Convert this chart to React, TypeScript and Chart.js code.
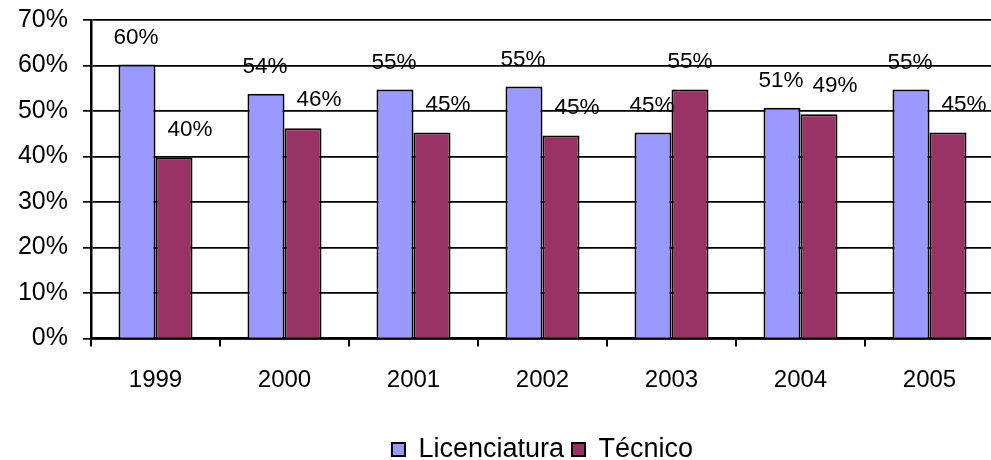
import React, { useEffect, useRef } from "react";
import { Chart, registerables } from "chart.js";

Chart.register(...registerables);

const years = ["1999", "2000", "2001", "2002", "2003", "2004", "2005"];
const licenciatura = [60.2, 53.8, 54.7, 55.4, 45.3, 50.7, 54.7];
const tecnico = [39.8, 46.2, 45.3, 44.6, 54.7, 49.3, 45.3];
const yTicks = [0, 10, 20, 30, 40, 50, 60, 70];

const FONT = '"Liberation Sans", Arial, sans-serif';

const valueLabels = {
  id: "valueLabels",
  afterDatasetsDraw(chart: any) {
    const ctx = chart.ctx;
    ctx.save();
    ctx.font = `22.5px ${FONT}`;
    ctx.fillStyle = "#000";
    ctx.textAlign = "center";
    ctx.textBaseline = "middle";
    const m0 = chart.getDatasetMeta(0);
    const m1 = chart.getDatasetMeta(1);
    m0.data.forEach((bar: any, i: number) => {
      const v = licenciatura[i];
      ctx.fillText(Math.round(v) + "%", bar.x - 1, bar.y - 27);
    });
    m1.data.forEach((bar: any, i: number) => {
      const v = tecnico[i];
      const dx = v < licenciatura[i] ? 16 : 0;
      ctx.fillText(Math.round(v) + "%", bar.x + dx, bar.y - 28);
    });
    ctx.restore();
  },
};

export default function App() {
  const ref = useRef<HTMLCanvasElement | null>(null);
  useEffect(() => {
    if (!ref.current) return;
    const chart = new Chart(ref.current, {
      type: "bar",
      data: {
        labels: years,
        datasets: [
          {
            label: "Licenciatura",
            data: licenciatura,
            backgroundColor: "#9999FF",
            borderColor: "#000",
            borderWidth: 2,
          },
          {
            label: "Técnico",
            data: tecnico,
            backgroundColor: "#993366",
            borderColor: "#000",
            borderWidth: 2,
          },
        ],
      },
      options: {
        responsive: false,
        animation: false,
        devicePixelRatio: 1,
        layout: { padding: { top: 20, left: 0, right: 6, bottom: 7 } },
        datasets: {
          bar: { categoryPercentage: 0.574, barPercentage: 1.0 },
        },
        scales: {
          x: {
            offset: true,
            grid: {
              offset: true,
              drawOnChartArea: false,
              drawTicks: true,
              tickLength: 8,
              color: "#000",
              lineWidth: 2,
            },
            border: { display: true, color: "#000", width: 2.5 },
            ticks: {
              color: "#000",
              font: { family: FONT, size: 24 },
              padding: 19,
              maxRotation: 0,
            },
            afterFit(scale: any) {
              scale.height = 89.5;
              scale.paddingLeft = 0;
              scale.paddingRight = 0;
            },
          },
          y: {
            min: 0,
            max: 70,
            afterBuildTicks(scale: any) {
              scale.ticks = yTicks.map((v) => ({ value: v }));
            },
            grid: {
              color: "#000",
              lineWidth: 1.7,
              tickLength: 8,
            },
            border: { display: true, color: "#000", width: 2.5 },
            ticks: {
              color: "#000",
              font: { family: FONT, size: 25 },
              padding: 15,
              callback: (v: any) => v + "%",
            },
            afterFit(scale: any) {
              scale.width = 91;
              scale.paddingTop = 0;
              scale.paddingBottom = 0;
            },
          },
        },
        plugins: {
          legend: {
            position: "bottom",
            fullSize: false,
            labels: {
              color: "#000",
              font: { family: FONT, size: 27 },
              boxWidth: 13,
              boxHeight: 13,
              padding: 8,
            },
          },
          tooltip: { enabled: false },
        },
      },
      plugins: [valueLabels],
    });
    return () => chart.destroy();
  }, []);
  return (
    <div
      style={{
        position: "fixed",
        left: 0,
        top: 0,
        width: 991,
        height: 460,
        overflow: "hidden",
        background: "#fff",
      }}
    >
      <canvas ref={ref} width={1000} height={480} style={{ display: "block" }} />
    </div>
  );
}
